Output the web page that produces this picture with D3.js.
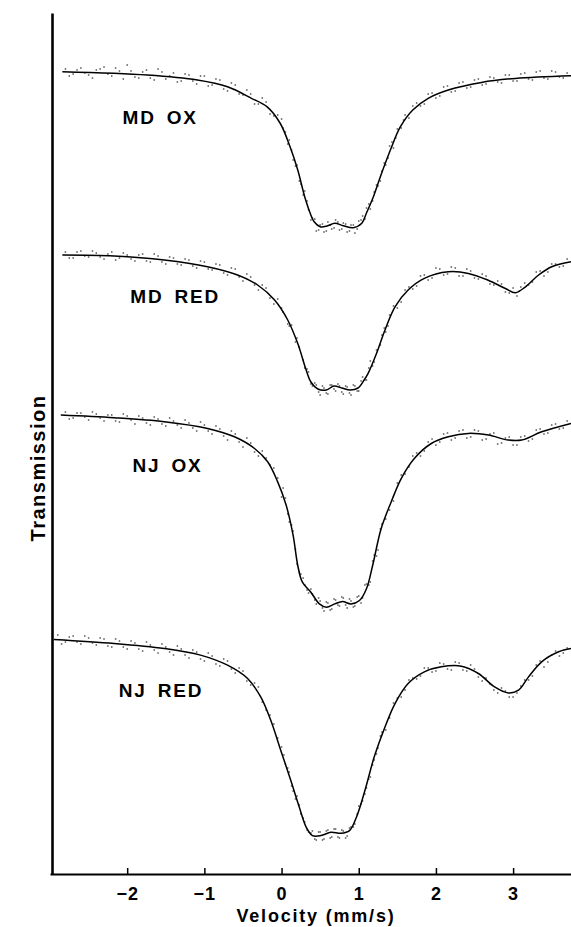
<!DOCTYPE html>
<html>
<head>
<meta charset="utf-8">
<script src="https://cdn.jsdelivr.net/npm/d3@7"></script>
<style>
  html, body { margin: 0; padding: 0; background: #fff; }
  svg { display: block; }
  text { font-family: "Liberation Sans", Arial, Helvetica, sans-serif; fill: #000; }
</style>
</head>
<body>
<svg id="chart" width="571" height="927"></svg>
<script>
// ---------------- data (velocity mm/s, transmission in arbitrary stacked units) ----------------
const xTicks = [-2, -1, 0, 1, 2, 3];
const xTickLabels = ["\u22122", "\u22121", "0", "1", "2", "3"];
const xTitle = "Velocity (mm/s)";
const yTitle = "Transmission";
const spectrumNames = ["MD OX", "MD RED", "NJ OX", "NJ RED"];

// fitted curves
const mdOxFit = [[-2.84,80.23],[-1.74,79.90],[-1.09,79.40],[-0.70,78.72],[-0.39,77.57],[-0.19,76.73],[-0.02,75.10],[0.11,72.73],[0.21,70.40],[0.30,67.73],[0.37,66.10],[0.42,65.25],[0.50,64.73],[0.59,64.80],[0.69,65.07],[0.80,64.83],[0.93,64.63],[1.04,65.07],[1.10,66.10],[1.19,67.73],[1.28,69.73],[1.41,72.40],[1.54,74.73],[1.70,76.40],[1.90,77.57],[2.16,78.40],[2.59,79.16],[3.03,79.56],[3.75,79.83]];
const mdRedFit = [[-2.84,61.90],[-2.17,61.80],[-1.52,61.40],[-0.96,60.73],[-0.57,59.90],[-0.31,58.90],[-0.09,57.40],[0.08,55.40],[0.21,53.04],[0.32,50.37],[0.38,49.20],[0.47,48.50],[0.58,48.40],[0.68,48.80],[0.78,48.60],[0.89,48.40],[0.99,48.60],[1.07,49.40],[1.12,50.03],[1.23,52.04],[1.34,54.40],[1.47,56.72],[1.64,58.40],[1.85,59.56],[2.16,60.22],[2.42,60.06],[2.67,59.40],[2.90,58.55],[3.03,58.12],[3.16,58.72],[3.33,59.90],[3.50,60.73],[3.75,61.23]];
const njOxFit = [[-2.86,45.90],[-2.17,45.63],[-1.52,45.23],[-0.96,44.56],[-0.61,43.72],[-0.35,42.55],[-0.18,41.22],[-0.05,39.21],[0.06,36.87],[0.15,33.86],[0.21,30.85],[0.27,29.18],[0.38,28.18],[0.49,27.01],[0.58,26.68],[0.69,27.01],[0.79,27.25],[0.90,27.01],[1.01,27.35],[1.10,28.52],[1.18,30.85],[1.29,34.53],[1.42,37.20],[1.55,39.54],[1.72,41.55],[1.94,43.05],[2.16,43.72],[2.42,44.06],[2.68,43.89],[2.94,43.39],[3.11,43.39],[3.37,44.22],[3.75,45.06]];
const njRedFit = [[-2.95,23.46],[-2.17,23.06],[-1.52,22.55],[-1.05,21.89],[-0.70,20.88],[-0.44,19.55],[-0.27,17.71],[-0.14,15.37],[-0.01,12.36],[0.12,9.35],[0.23,6.68],[0.32,4.67],[0.40,3.84],[0.51,3.84],[0.64,4.17],[0.77,4.07],[0.88,4.34],[0.97,5.68],[1.08,8.35],[1.20,11.69],[1.34,14.70],[1.47,17.04],[1.64,19.04],[1.85,20.21],[2.07,20.72],[2.33,20.78],[2.55,20.05],[2.76,18.71],[2.94,18.11],[3.07,18.38],[3.20,19.71],[3.37,21.22],[3.59,22.22],[3.75,22.55]];

// measured points (read approximately)
const mdOxObs = [[-2.8,80.5],[-2.7,80.0],[-2.6,80.6],[-2.5,79.9],[-2.4,80.4],[-2.3,80.7],[-2.2,79.8],[-2.1,80.3],[-2.0,80.9],[-1.9,79.7],[-1.8,80.2],[-1.7,79.6],[-1.6,80.5],[-1.5,79.5],[-1.4,80.1],[-1.3,79.3],[-1.2,79.9],[-1.1,79.0],[-1.0,79.8],[-0.9,78.9],[-0.8,79.4],[-0.7,78.3],[-0.6,78.9],[-0.5,77.9],[-0.4,78.0],[-0.3,77.0],[-0.2,77.2],[-0.1,75.8],[0.0,75.5],[0.05,74.2],[0.1,73.4],[0.15,71.4],[0.2,70.9],[0.25,69.0],[0.3,68.3],[0.35,66.4],[0.4,65.6],[0.45,64.3],[0.5,64.9],[0.55,64.2],[0.6,65.2],[0.65,64.5],[0.7,65.4],[0.75,64.4],[0.8,65.1],[0.85,64.2],[0.9,64.9],[0.95,64.1],[1.0,65.3],[1.05,65.8],[1.1,66.6],[1.15,66.5],[1.2,68.2],[1.25,68.8],[1.3,70.3],[1.35,70.9],[1.4,72.8],[1.45,72.6],[1.5,74.5],[1.55,74.6],[1.6,75.9],[1.7,76.8],[1.8,76.8],[1.9,78.0],[2.0,77.6],[2.1,78.7],[2.2,78.2],[2.3,79.1],[2.4,78.6],[2.5,79.4],[2.6,78.9],[2.7,79.7],[2.8,79.2],[2.9,79.9],[3.0,79.3],[3.1,80.0],[3.2,79.5],[3.3,80.2],[3.4,79.6],[3.5,80.3],[3.6,79.7],[3.7,80.1]];
const mdOxObs2 = [[-2.75,79.8],[-2.65,80.4],[-2.55,80.1],[-2.45,79.6],[-2.35,80.5],[-2.25,80.0],[-2.15,80.6],[-2.05,79.5],[-1.95,80.3],[-1.85,79.6],[-1.75,80.4],[-1.65,79.4],[-1.55,80.2],[-1.45,79.8],[-1.35,79.2],[-1.25,80.0],[-1.15,79.3],[-1.05,79.8],[-0.95,78.8],[-0.85,79.5],[-0.75,78.5],[-0.65,79.1],[-0.55,78.0],[-0.45,78.4],[-0.35,77.0],[-0.25,77.6],[-0.15,76.0],[-0.05,75.9],[0.02,74.6],[0.08,73.0],[0.13,72.4],[0.18,70.8],[0.23,69.3],[0.28,67.9],[0.33,67.3],[0.38,65.4],[0.43,65.5],[0.48,64.4],[0.53,65.0],[0.58,64.3],[0.63,64.9],[0.68,64.6],[0.73,65.2],[0.78,64.5],[0.83,65.0],[0.88,64.3],[0.93,64.9],[0.98,64.5],[1.03,65.4],[1.08,65.5],[1.13,67.0],[1.18,67.3],[1.23,68.9],[1.28,69.3],[1.33,71.1],[1.38,71.6],[1.43,73.2],[1.48,73.6],[1.58,75.4],[1.65,75.6],[1.75,77.1],[1.85,77.0],[1.95,78.1],[2.05,77.8],[2.15,78.8],[2.25,78.3],[2.35,79.2],[2.45,78.7],[2.55,79.5],[2.65,79.0],[2.75,79.6],[2.85,79.1],[2.95,79.9],[3.05,79.3],[3.15,80.1],[3.25,79.4],[3.35,80.3],[3.45,79.5],[3.55,80.2],[3.65,79.6]];
const mdRedObs = [[-2.8,62.2],[-2.7,61.6],[-2.6,62.3],[-2.5,61.7],[-2.4,62.1],[-2.3,61.5],[-2.2,62.2],[-2.1,61.6],[-2.0,61.9],[-1.9,61.3],[-1.8,62.0],[-1.7,61.2],[-1.6,61.8],[-1.5,61.0],[-1.4,61.6],[-1.3,60.9],[-1.2,61.4],[-1.1,60.6],[-1.0,61.2],[-0.9,60.4],[-0.8,60.9],[-0.7,59.9],[-0.6,60.5],[-0.5,59.3],[-0.4,59.7],[-0.3,58.4],[-0.2,58.6],[-0.1,57.0],[0.0,56.6],[0.1,54.8],[0.2,53.6],[0.3,50.6],[0.35,50.2],[0.4,48.8],[0.45,48.9],[0.5,47.9],[0.55,48.6],[0.6,48.0],[0.65,48.9],[0.7,48.3],[0.75,48.8],[0.8,48.0],[0.85,48.7],[0.9,47.9],[0.95,48.8],[1.0,48.3],[1.05,49.7],[1.1,49.4],[1.15,51.3],[1.2,51.2],[1.3,53.9],[1.35,54.2],[1.4,55.9],[1.5,56.6],[1.6,58.4],[1.7,58.5],[1.8,59.8],[1.9,59.4],[2.0,60.6],[2.1,59.9],[2.2,60.7],[2.3,59.8],[2.4,60.5],[2.5,59.6],[2.6,60.0],[2.7,59.0],[2.8,59.3],[2.9,58.2],[3.0,58.6],[3.05,57.8],[3.1,58.7],[3.2,58.9],[3.3,60.2],[3.4,59.8],[3.5,61.0],[3.6,60.7],[3.7,61.5]];
const mdRedObs2 = [[-2.75,61.6],[-2.65,62.2],[-2.55,61.8],[-2.45,62.3],[-2.35,61.7],[-2.25,62.0],[-2.15,61.4],[-2.05,62.1],[-1.95,61.5],[-1.85,61.9],[-1.75,61.3],[-1.65,62.0],[-1.55,61.2],[-1.45,61.7],[-1.35,61.0],[-1.25,61.5],[-1.15,60.8],[-1.05,61.3],[-0.95,60.5],[-0.85,61.0],[-0.75,60.1],[-0.65,60.6],[-0.55,59.7],[-0.45,60.0],[-0.35,58.9],[-0.25,58.9],[-0.15,57.6],[-0.05,57.5],[0.02,56.2],[0.08,55.0],[0.13,54.9],[0.18,53.2],[0.23,52.7],[0.28,51.4],[0.33,50.5],[0.38,49.0],[0.43,49.1],[0.48,48.2],[0.53,48.8],[0.58,48.1],[0.63,48.9],[0.68,48.5],[0.73,49.0],[0.78,48.2],[0.83,48.8],[0.88,48.1],[0.93,48.9],[0.98,48.3],[1.03,49.3],[1.08,49.4],[1.13,50.6],[1.18,50.8],[1.23,52.4],[1.28,52.9],[1.33,54.6],[1.38,54.8],[1.45,56.8],[1.55,57.2],[1.65,58.7],[1.75,58.8],[1.85,59.9],[1.95,59.6],[2.05,60.5],[2.15,60.0],[2.25,60.6],[2.35,59.8],[2.45,60.3],[2.55,59.5],[2.65,59.8],[2.75,58.9],[2.85,59.0],[2.95,58.1],[3.08,58.3],[3.15,59.1],[3.25,59.2],[3.35,60.3],[3.45,60.2],[3.55,61.0],[3.65,60.8]];
const njOxObs = [[-2.8,46.2],[-2.7,45.6],[-2.6,46.1],[-2.5,45.4],[-2.4,46.0],[-2.3,45.3],[-2.2,45.9],[-2.1,45.2],[-2.0,45.8],[-1.9,45.0],[-1.8,45.6],[-1.7,44.9],[-1.6,45.5],[-1.5,44.8],[-1.4,45.3],[-1.3,44.6],[-1.2,45.1],[-1.1,44.3],[-1.0,44.9],[-0.9,44.0],[-0.8,44.5],[-0.7,43.4],[-0.6,44.0],[-0.5,42.7],[-0.4,43.1],[-0.3,41.8],[-0.2,41.6],[-0.1,40.6],[0.0,37.7],[0.05,37.6],[0.1,35.2],[0.15,34.3],[0.2,31.0],[0.25,30.0],[0.3,28.9],[0.35,28.1],[0.4,28.0],[0.45,27.0],[0.5,27.3],[0.55,26.3],[0.6,27.1],[0.65,26.5],[0.7,27.4],[0.75,26.8],[0.8,27.6],[0.85,26.6],[0.9,27.3],[0.95,26.8],[1.0,27.8],[1.05,27.6],[1.1,29.0],[1.15,29.2],[1.2,31.9],[1.25,32.4],[1.3,35.0],[1.4,36.4],[1.5,39.1],[1.6,40.0],[1.7,41.8],[1.8,41.8],[1.9,43.2],[2.0,42.9],[2.1,44.0],[2.2,43.4],[2.3,44.3],[2.4,43.6],[2.5,44.4],[2.6,43.4],[2.7,44.0],[2.8,43.0],[2.9,43.6],[3.0,42.9],[3.1,43.7],[3.2,43.3],[3.3,44.4],[3.4,44.0],[3.5,44.9],[3.6,44.5],[3.7,45.3]];
const njOxObs2 = [[-2.75,45.5],[-2.65,46.1],[-2.55,45.7],[-2.45,46.2],[-2.35,45.6],[-2.25,45.9],[-2.15,45.3],[-2.05,46.0],[-1.95,45.4],[-1.85,45.8],[-1.75,45.1],[-1.65,45.7],[-1.55,45.0],[-1.45,45.6],[-1.35,44.9],[-1.25,45.4],[-1.15,44.6],[-1.05,45.2],[-0.95,44.3],[-0.85,44.8],[-0.75,43.8],[-0.65,44.3],[-0.55,43.2],[-0.45,43.6],[-0.35,42.2],[-0.25,42.3],[-0.15,40.9],[-0.05,39.6],[0.02,38.6],[0.08,36.0],[0.13,34.9],[0.18,32.5],[0.23,30.2],[0.28,29.6],[0.33,28.4],[0.38,28.5],[0.43,27.4],[0.48,27.6],[0.53,26.6],[0.58,27.2],[0.63,26.4],[0.68,27.5],[0.73,26.9],[0.78,27.7],[0.83,26.9],[0.88,27.5],[0.93,26.7],[0.98,27.7],[1.03,27.1],[1.08,28.9],[1.13,28.9],[1.18,31.3],[1.23,31.8],[1.28,34.5],[1.35,35.5],[1.45,37.3],[1.55,39.9],[1.65,40.7],[1.75,42.1],[1.85,42.3],[1.95,43.5],[2.05,43.2],[2.15,44.1],[2.25,43.6],[2.35,44.4],[2.45,43.7],[2.55,44.3],[2.65,43.5],[2.75,44.1],[2.85,43.1],[2.95,43.7],[3.05,42.9],[3.15,43.8],[3.25,43.5],[3.35,44.5],[3.45,44.1],[3.55,45.0],[3.65,44.6]];
const njRedObs = [[-2.9,23.9],[-2.8,23.2],[-2.7,23.8],[-2.6,23.0],[-2.5,23.6],[-2.4,22.9],[-2.3,23.5],[-2.2,22.7],[-2.1,23.3],[-2.0,22.5],[-1.9,23.1],[-1.8,22.3],[-1.7,22.9],[-1.6,22.1],[-1.5,22.7],[-1.4,21.9],[-1.3,22.5],[-1.2,21.6],[-1.1,22.2],[-1.0,21.3],[-0.9,21.8],[-0.8,20.8],[-0.7,21.3],[-0.6,20.1],[-0.5,20.3],[-0.4,18.9],[-0.3,18.7],[-0.2,16.4],[-0.1,15.0],[0.0,12.7],[0.05,11.0],[0.1,10.2],[0.15,8.3],[0.2,7.8],[0.25,6.0],[0.3,5.2],[0.35,4.2],[0.4,4.3],[0.45,3.4],[0.5,4.2],[0.55,3.5],[0.6,4.4],[0.65,3.7],[0.7,4.5],[0.75,3.6],[0.8,4.3],[0.85,3.8],[0.9,4.7],[0.95,5.0],[1.0,6.8],[1.05,7.3],[1.1,8.6],[1.15,9.7],[1.2,11.4],[1.25,12.6],[1.3,14.2],[1.4,15.6],[1.5,17.6],[1.6,18.4],[1.7,19.6],[1.8,19.8],[1.9,20.6],[2.0,20.3],[2.1,21.0],[2.2,20.4],[2.3,21.1],[2.4,20.3],[2.5,20.5],[2.6,19.3],[2.7,19.0],[2.8,18.1],[2.9,18.3],[3.0,17.7],[3.1,18.8],[3.2,19.4],[3.3,20.9],[3.4,20.7],[3.5,21.9],[3.6,21.8],[3.7,22.6]];
const njRedObs2 = [[-2.85,23.0],[-2.75,23.7],[-2.65,23.2],[-2.55,23.8],[-2.45,23.1],[-2.35,23.6],[-2.25,22.8],[-2.15,23.5],[-2.05,22.7],[-1.95,23.3],[-1.85,22.5],[-1.75,23.2],[-1.65,22.4],[-1.55,23.0],[-1.45,22.2],[-1.35,22.8],[-1.25,21.9],[-1.15,22.4],[-1.05,21.5],[-0.95,22.1],[-0.85,21.0],[-0.75,21.5],[-0.65,20.5],[-0.55,20.6],[-0.45,19.3],[-0.35,19.1],[-0.25,17.2],[-0.15,15.9],[-0.05,13.6],[0.03,11.9],[0.08,10.6],[0.13,8.8],[0.18,7.5],[0.23,6.9],[0.28,5.6],[0.33,4.4],[0.38,4.1],[0.43,3.5],[0.48,4.2],[0.53,3.4],[0.58,4.3],[0.63,3.6],[0.68,4.5],[0.73,3.7],[0.78,4.4],[0.83,3.6],[0.88,4.6],[0.93,4.7],[0.98,6.0],[1.03,7.0],[1.08,8.0],[1.13,9.5],[1.18,10.9],[1.23,12.0],[1.28,13.8],[1.35,14.4],[1.45,17.1],[1.55,17.7],[1.65,19.4],[1.75,19.5],[1.85,20.6],[1.95,20.2],[2.05,21.1],[2.15,20.5],[2.25,21.2],[2.35,20.4],[2.45,20.9],[2.55,19.7],[2.65,19.6],[2.75,18.4],[2.85,18.6],[2.95,17.7],[3.05,18.1],[3.15,19.4],[3.25,19.8],[3.35,21.3],[3.45,21.2],[3.55,22.3],[3.65,22.1]];

// label anchors (velocity, transmission) for the spectrum names
const labelPos = [[-2.06,75.0],[-1.96,57.1],[-1.93,40.2],[-2.11,17.7]];

// ---------------- drawing ----------------
const svg = d3.select("#chart");
const mLeft = 50, mRight = 571, mTop = 13, mBottom = 874;

const x = d3.scaleLinear().domain([-3, 3.75]).range([mLeft, mRight]);
const y = d3.scaleLinear().domain([0, 86.1]).range([mBottom, mTop]);

const fits = [mdOxFit, mdRedFit, njOxFit, njRedFit];
const obs = [mdOxObs, mdOxObs2, mdRedObs, mdRedObs2, njOxObs, njOxObs2, njRedObs, njRedObs2];

// observed points
obs.forEach(pts => {
  svg.append("g").selectAll("rect").data(pts).join("rect")
    .attr("x", d => x(d[0]) - 0.75)
    .attr("y", d => y(d[1]) - 0.75)
    .attr("width", 1.5).attr("height", 1.5)
    .attr("fill", "#555");
});

// fitted lines
const line = d3.line().x(d => x(d[0])).y(d => y(d[1])).curve(d3.curveCatmullRom.alpha(0.5));
svg.append("g").selectAll("path").data(fits).join("path")
  .attr("d", line)
  .attr("fill", "none")
  .attr("stroke", "#000")
  .attr("stroke-width", 1.5);

// x axis
const xAxis = d3.axisBottom(x).tickValues(xTicks)
  .tickFormat((d, i) => xTickLabels[i])
  .tickSizeInner(-6).tickSizeOuter(0).tickPadding(13);
const gx = svg.append("g").attr("transform", `translate(0,${mBottom})`).call(xAxis);
gx.select(".domain").attr("stroke", "#000").attr("stroke-width", 2);
gx.selectAll(".tick line").attr("stroke", "#000").attr("stroke-width", 1.5);
gx.selectAll(".tick text")
  .attr("font-size", 18).attr("font-weight", "bold")
  .style("font-family", '"Liberation Sans", Arial, sans-serif')
  .attr("letter-spacing", 1);

// y axis (no ticks)
const yAxis = d3.axisLeft(y).tickValues([]).tickSizeOuter(0);
const gy = svg.append("g").attr("transform", `translate(52,0)`).call(yAxis);
gy.select(".domain").attr("stroke", "#000").attr("stroke-width", 2.6);

// axis titles
svg.append("text")
  .attr("x", 316).attr("y", 922)
  .attr("text-anchor", "middle")
  .attr("font-size", 18).attr("font-weight", "bold")
  .attr("letter-spacing", 1.8)
  .text(xTitle);

svg.append("text")
  .attr("transform", "translate(45,468) rotate(-90)")
  .attr("text-anchor", "middle")
  .attr("font-size", 20).attr("font-weight", "bold")
  .attr("letter-spacing", 1.5)
  .text(yTitle);

// spectrum labels
svg.append("g").selectAll("text").data(spectrumNames).join("text")
  .attr("x", (d, i) => x(labelPos[i][0]))
  .attr("y", (d, i) => y(labelPos[i][1]))
  .attr("font-size", 19).attr("font-weight", "bold")
  .attr("letter-spacing", 1.8)
  .attr("word-spacing", 4)
  .text(d => d);
</script>
</body>
</html>
